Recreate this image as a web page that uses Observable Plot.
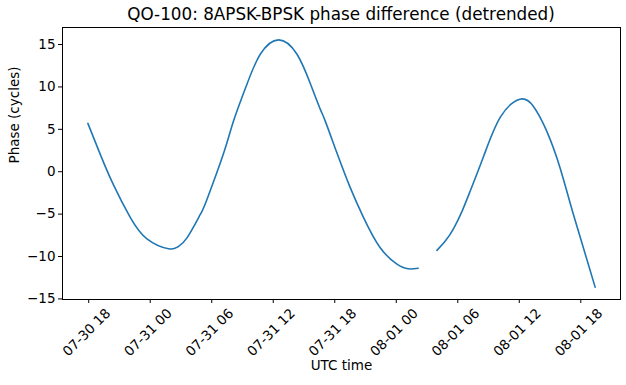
<!DOCTYPE html>
<html>
<head>
<meta charset="utf-8">
<script src="https://cdn.jsdelivr.net/npm/d3@7"></script>
<script src="https://cdn.jsdelivr.net/npm/@observablehq/plot@0.6"></script>
<style>
  html, body { margin: 0; padding: 0; background: #fff; }
  #wrap { position: relative; width: 626px; height: 385px; font-family: "DejaVu Sans", sans-serif; }
  #title { position: absolute; left: 0; width: 682px; top: 4px; text-align: center; font-size: 16.8px; color: #000; }
</style>
</head>
<body>
<div id="wrap">
  <div id="title">QO-100: 8APSK-BPSK phase difference (detrended)</div>
</div>
<script>
// Sample times (UTC), phase values (cycles), and segment id (gap in data)
const times = [
  "2021-07-30T17:55", "2021-07-30T19:07", "2021-07-30T20:25", "2021-07-30T22:03", "2021-07-30T23:41",
  "2021-07-31T01:47", "2021-07-31T02:42", "2021-07-31T03:35", "2021-07-31T04:53", "2021-07-31T05:32",
  "2021-07-31T07:09", "2021-07-31T08:08", "2021-07-31T09:26", "2021-07-31T10:44", "2021-07-31T12:31",
  "2021-07-31T14:19", "2021-07-31T15:38", "2021-07-31T16:35", "2021-07-31T17:04", "2021-07-31T18:12",
  "2021-07-31T19:30", "2021-07-31T20:48", "2021-07-31T22:24", "2021-08-01T00:02", "2021-08-01T01:10",
  "2021-08-01T02:08",
  "2021-08-01T03:58", "2021-08-01T04:48", "2021-08-01T05:37", "2021-08-01T06:26", "2021-08-01T07:14",
  "2021-08-01T08:32", "2021-08-01T10:10", "2021-08-01T12:03", "2021-08-01T13:21", "2021-08-01T14:40",
  "2021-08-01T15:58", "2021-08-01T17:16", "2021-08-01T19:24"
];
const phases = [
  5.70, 2.08, -1.56, -5.38, -7.92,
  -9.09, -8.85, -7.80, -5.04, -3.27,
  2.14, 6.00, 10.32, 13.85, 15.55,
  13.85, 10.34, 7.38, 6.00, 2.26,
  -1.85, -5.38, -8.91, -10.86, -11.45,
  -11.38,
  -9.27, -8.15, -6.64, -4.61, -2.22,
  1.85, 6.46, 8.55, 7.76, 4.82,
  0.51, -4.98, -13.61
];
const segments = [
  1,1,1,1,1, 1,1,1,1,1, 1,1,1,1,1, 1,1,1,1,1, 1,1,1,1,1, 1,
  2,2,2,2,2, 2,2,2,2,2, 2,2,2
];
const xTickTimes = [
  "2021-07-30T18:00", "2021-07-31T00:00", "2021-07-31T06:00", "2021-07-31T12:00",
  "2021-07-31T18:00", "2021-08-01T00:00", "2021-08-01T06:00", "2021-08-01T12:00", "2021-08-01T18:00"
];
const yTicks = [-15, -10, -5, 0, 5, 10, 15];

const parse = s => new Date(s + ":00Z");
const data = times.map((t, i) => ({t: parse(t), p: phases[i], s: segments[i]}));
const xTicks = xTickTimes.map(parse);

// matplotlib-style 5% margins
const tExt = d3.extent(data, d => +d.t);
const tPad = (tExt[1] - tExt[0]) * 0.05;
const pExt = d3.extent(data, d => d.p);
const pPad = (pExt[1] - pExt[0]) * 0.05;

const fmt = d3.utcFormat("%m-%d %H");

const chart = Plot.plot({
  width: 626,
  height: 385,
  marginLeft: 62,
  marginRight: 6,
  marginTop: 27,
  marginBottom: 86,
  style: { fontFamily: "DejaVu Sans, sans-serif", fontSize: "13.5px", color: "#000", background: "#fff" },
  x: { type: "utc", domain: [new Date(tExt[0] - tPad), new Date(tExt[1] + tPad)] },
  y: { domain: [pExt[0] - pPad, pExt[1] + pPad] },
  marks: [
    Plot.line(data, { x: "t", y: "p", z: "s", stroke: "#1f77b4", strokeWidth: 1.6, curve: "natural" }),
    Plot.frame({ stroke: "#000", strokeWidth: 1 }),
    Plot.axisY({ ticks: yTicks, tickSize: 4, tickPadding: 3, fontSize: 13.5, label: null }),
    Plot.axisX({ ticks: xTicks, tickSize: 4, tickFormat: () => "", label: null }),
    Plot.text(xTicks, {
      x: d => d, frameAnchor: "bottom", text: d => fmt(d),
      rotate: -45, textAnchor: "middle", lineAnchor: "middle",
      dy: 33, dx: -2, fontSize: 13.5, fill: "#000"
    }),
    Plot.text(["UTC time"], { frameAnchor: "bottom", dy: 70, fontSize: 13.5, fill: "#000" }),
    Plot.text(["Phase (cycles)"], { frameAnchor: "left", dx: -48, rotate: -90, fontSize: 13.5, fill: "#000" })
  ]
});
document.getElementById("wrap").appendChild(chart);
</script>
</body>
</html>
